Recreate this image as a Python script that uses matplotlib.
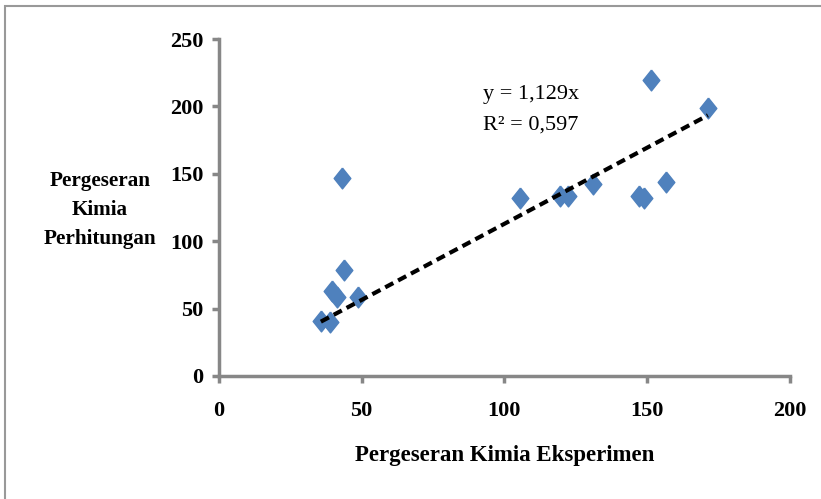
import matplotlib
matplotlib.use("Agg")
import matplotlib.pyplot as plt
import numpy as np
from matplotlib.patches import Rectangle

x_exp = [35.7, 38.8, 39.5, 41.3, 43.0, 43.7, 48.6, 105.6, 119.6, 122.4, 131.0, 147.2, 148.9, 151.4, 156.6, 171.3]
y_calc = [40.7, 40.0, 62.9, 58.4, 147.0, 79.0, 58.4, 132.4, 133.9, 133.9, 142.8, 133.9, 131.7, 219.7, 144.2, 199.0]
slope = 1.129
eq_text = "y = 1,129x"
r2_text = "R² = 0,597"
x_ticks = [0, 50, 100, 150, 200]
y_ticks = [0, 50, 100, 150, 200, 250]

plt.rcParams['font.family'] = ['Liberation Serif', 'DejaVu Serif']

fig = plt.figure(figsize=(8.21, 4.99), dpi=100)
ax = fig.add_axes([0.2667, 0.2465, 0.962 - 0.2667, 0.9218 - 0.2465])

diamond = [(0, 1), (0.8, 0), (0, -1), (-0.8, 0), (0, 1)]
ax.plot(x_exp, y_calc, linestyle='none', marker=diamond, ms=15,
        color='#4F81BD', mec='#4F81BD', zorder=3)

xl = np.array([min(x_exp), max(x_exp)])
ax.plot(xl, slope * xl, color='black', lw=3, linestyle=(0, (2.2, 1.3)), zorder=4)

ax.set_xlim(0, 200)
ax.set_ylim(0, 250)
ax.set_xticks(x_ticks)
ax.set_yticks(y_ticks)
for s in ['top', 'right']:
    ax.spines[s].set_visible(False)
for s in ['left', 'bottom']:
    ax.spines[s].set_color('#878787')
    ax.spines[s].set_linewidth(2.5)
ax.tick_params(axis='both', colors='#878787', width=2.5, length=5, direction='out')
for lab in ax.get_xticklabels() + ax.get_yticklabels():
    lab.set_color('black')
    lab.set_fontweight('bold')
    lab.set_fontsize(16)
ax.tick_params(axis='x', pad=13)
ax.tick_params(axis='y', pad=6)

ax.set_xlabel("Pergeseran Kimia Eksperimen", fontsize=16.5, fontweight='bold', labelpad=17)
fig.text(100 / 821, 1 - 210 / 499, "Pergeseran\nKimia\nPerhitungan", ha='center', va='center',
         fontsize=15.2, fontweight='bold', linespacing=1.6)

fig.text(483 / 821, 1 - 95 / 499, eq_text, ha='left', va='center', fontsize=16)
fig.text(483 / 821, 1 - 125 / 499, r2_text, ha='left', va='center', fontsize=16)

fig.patches.append(Rectangle((5 / 821, -0.1), 1.2, 1 - 6 / 499 + 0.1, transform=fig.transFigure,
                             fill=False, edgecolor='#999999', lw=1.5))

fig.savefig("out.png", dpi=100)
